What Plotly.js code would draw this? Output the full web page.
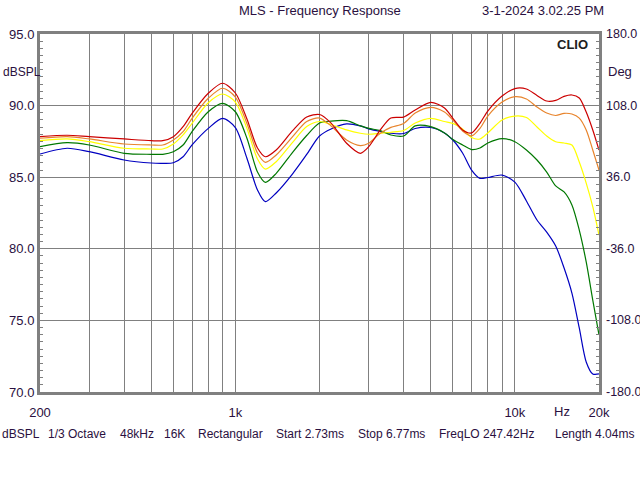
<!DOCTYPE html>
<html>
<head>
<meta charset="utf-8">
<script src="https://cdn.plot.ly/plotly-3.0.1.min.js"></script>
<style>
  html, body { margin: 0; padding: 0; background: #fff; }
  #chart { width: 640px; height: 480px; }
</style>
</head>
<body>
<div id="chart"></div>
<script>
// Frequency points (Hz)
const FREQ = [200, 250, 300, 400, 500, 550, 600, 650, 700, 800,
  900, 1000, 1100, 1200, 1280, 1400, 1600, 1800, 2000, 2200,
  2500, 2800, 3000, 3300, 3600, 4000, 4400, 5000, 5600, 6000,
  6500, 7000, 7500, 8000, 9000, 10000, 11000, 12000, 13000, 14000,
  15000, 16000, 17000, 18000, 19000, 20000];

// dBSPL per curve
const RED = [87.83, 87.93, 87.83, 87.67, 87.55, 87.55, 87.83, 88.53, 89.46, 90.86,
  91.56, 90.88, 89.06, 87.04, 86.43, 86.9, 88.23, 89.2, 89.38, 88.78,
  87.37, 86.67, 87.13, 88.3, 89.13, 89.2, 89.69, 90.23, 89.83, 89.11,
  88.3, 88.09, 88.76, 89.62, 90.67, 91.19, 91.16, 90.71, 90.32, 90.36,
  90.64, 90.74, 90.53, 89.55, 88.3, 86.9];
const ORANGE = [87.72, 87.83, 87.67, 87.32, 87.25, 87.25, 87.6, 88.18, 89.11, 90.51,
  91.21, 90.6, 88.75, 86.69, 86.04, 86.55, 87.81, 88.89, 89.13, 88.58,
  87.6, 87.21, 87.37, 88.07, 88.48, 88.75, 89.48, 89.88, 89.55, 88.99,
  88.23, 87.88, 88.41, 89.27, 90.25, 90.62, 90.46, 89.9, 89.48, 89.31,
  89.46, 89.41, 89.13, 88.3, 86.9, 85.5];
const YELLOW = [87.55, 87.67, 87.48, 87.02, 86.97, 86.97, 87.32, 87.95, 88.76, 90.2,
  90.81, 90.25, 88.41, 86.27, 85.57, 86.08, 87.42, 88.54, 88.89, 88.68,
  88.3, 88.07, 88.0, 88.07, 88.14, 88.26, 88.78, 89.11, 88.89, 88.76,
  88.37, 87.77, 87.67, 88.09, 88.99, 89.27, 89.17, 88.51, 87.88, 87.48,
  87.39, 87.25, 86.06, 84.59, 82.94, 80.96];
const GREEN = [87.13, 87.41, 87.25, 86.67, 86.6, 86.6, 86.78, 87.25, 88.18, 89.57,
  90.16, 89.57, 87.72, 85.36, 84.64, 85.27, 86.72, 87.91, 88.78, 88.92,
  88.95, 88.58, 88.41, 88.25, 87.95, 87.88, 88.58, 88.53, 88.09, 87.63,
  87.25, 86.93, 87.04, 87.39, 87.7, 87.48, 86.9, 86.2, 85.36, 84.39,
  83.97, 83.06, 81.31, 79.08, 76.42, 73.98];
const BLUE = [86.62, 87.02, 86.78, 86.2, 85.99, 85.97, 86.01, 86.43, 87.25, 88.41,
  89.11, 88.47, 86.32, 84.11, 83.29, 83.9, 85.22, 86.59, 87.88, 88.37,
  88.72, 88.58, 88.37, 88.19, 88.07, 88.05, 88.4, 88.47, 88.09, 87.6,
  86.69, 85.5, 84.92, 84.98, 85.15, 84.66, 83.34, 82.01, 81.17, 80.2,
  78.66, 76.91, 74.47, 72.1, 71.26, 71.26];

// Axis ticks / labels
const X_TICKS = [200, 300, 400, 500, 600, 700, 800, 900, 1000,
  2000, 3000, 4000, 5000, 6000, 7000, 8000, 9000, 10000, 20000];
const X_LABELS = ["200", "", "", "", "", "", "", "", "1k",
  "", "", "", "", "", "", "", "", "10k", "20k"];
const DEG_TICKS = [-180, -108, -36, 36, 108, 180];

const TITLE = "MLS - Frequency Response";
const DATE = "3-1-2024 3.02.25 PM";
const FOOTER = ["dBSPL", "1/3 Octave", "48kHz", "16K", "Rectangular",
  "Start 2.73ms", "Stop 6.77ms", "FreqLO 247.42Hz", "Length 4.04ms"];
const FOOTER_X = [0, 46, 118, 162, 196, 274, 356, 437, 553];

/* ---------- geometry helpers ---------- */
const M = { l: 40, r: 41, t: 34, b: 88 };
const W = 640 - M.l - M.r;
const H = 480 - M.t - M.b;
const px = (x) => (x - M.l) / W;
const py = (y) => (480 - M.b - y) / H;

const TXT = "#2a1040";
const GRID = "#808080";
const FONT = { family: "Liberation Sans, Arial, sans-serif", size: 13, color: TXT };
const SMALL = Object.assign({}, FONT, { size: 12 });
const DEGFONT = Object.assign({}, FONT, { size: 12.5 });

const series = [
  { y: BLUE, color: "#0000c0" },
  { y: GREEN, color: "#007800" },
  { y: YELLOW, color: "#ffff00" },
  { y: ORANGE, color: "#e8842c" },
  { y: RED, color: "#cc0000" }
];

const traces = series.map(s => ({
  type: "scatter", mode: "lines",
  x: FREQ, y: s.y,
  line: { color: s.color, width: 1.2, shape: "spline", smoothing: 0.8 },
  hoverinfo: "skip", showlegend: false
}));
// dummy trace so the Deg axis exists
traces.push({ type: "scatter", mode: "lines", x: [null], y: [null], yaxis: "y2",
  showlegend: false, hoverinfo: "skip" });

const ann = (text, x, y, xanchor, font) => ({
  text, xref: "paper", yref: "paper", x: px(x), y: py(y),
  xanchor, yanchor: "middle", showarrow: false, font: font || FONT
});

const annotations = [
  ann(TITLE, 320, 10, "center"),
  ann(DATE, 480, 10, "left"),
  ann("<b>CLIO</b>", 572, 44, "center", Object.assign({}, FONT, { color: "#202020" })),
  ann("dBSPL", 1, 72, "left", SMALL),
  ann("Deg", 606, 71, "left"),
  ann("Hz", 562, 411, "center")
];
FOOTER.forEach((t, i) => annotations.push(ann(t, FOOTER_X[i], 434, "left", SMALL)));
// Deg tick labels on the right side (drawn as text, hyphen minus like the original)
DEG_TICKS.forEach(v => annotations.push({
  text: v.toFixed(1), xref: "paper", yref: "y2", x: px(604), y: v,
  xanchor: "left", yanchor: "middle", showarrow: false, font: DEGFONT
}));

const layout = {
  width: 640, height: 480,
  margin: M,
  paper_bgcolor: "#ffffff", plot_bgcolor: "#ffffff",
  font: FONT,
  showlegend: false,
  xaxis: {
    type: "log",
    range: [Math.log10(200), Math.log10(20000)],
    tickmode: "array", tickvals: X_TICKS, ticktext: X_LABELS,
    showgrid: true, gridcolor: GRID, gridwidth: 1,
    showline: true, linecolor: GRID, linewidth: 3, mirror: true,
    ticks: "", zeroline: false, tickfont: FONT, ticklabelstandoff: 6
  },
  yaxis: {
    range: [70, 95], tick0: 70, dtick: 5, tickformat: ".1f",
    showgrid: true, gridcolor: GRID, gridwidth: 1,
    showline: true, linecolor: GRID, linewidth: 3, mirror: true,
    ticks: "inside", ticklen: 4, tickcolor: GRID,
    minor: { dtick: 0.5, ticks: "inside", ticklen: 3, tickcolor: GRID, showgrid: false },
    zeroline: false, tickfont: FONT
  },
  yaxis2: {
    overlaying: "y", side: "right",
    range: [-180, 180], tickmode: "array", tickvals: DEG_TICKS,
    showticklabels: false,
    showgrid: false, showline: false,
    ticks: "inside", ticklen: 4, tickcolor: GRID,
    minor: { dtick: 7.2, tick0: -180, ticks: "inside", ticklen: 3, tickcolor: GRID, showgrid: false },
    zeroline: false
  },
  annotations
};

Plotly.newPlot("chart", traces, layout, { staticPlot: true, displayModeBar: false });
</script>
</body>
</html>
